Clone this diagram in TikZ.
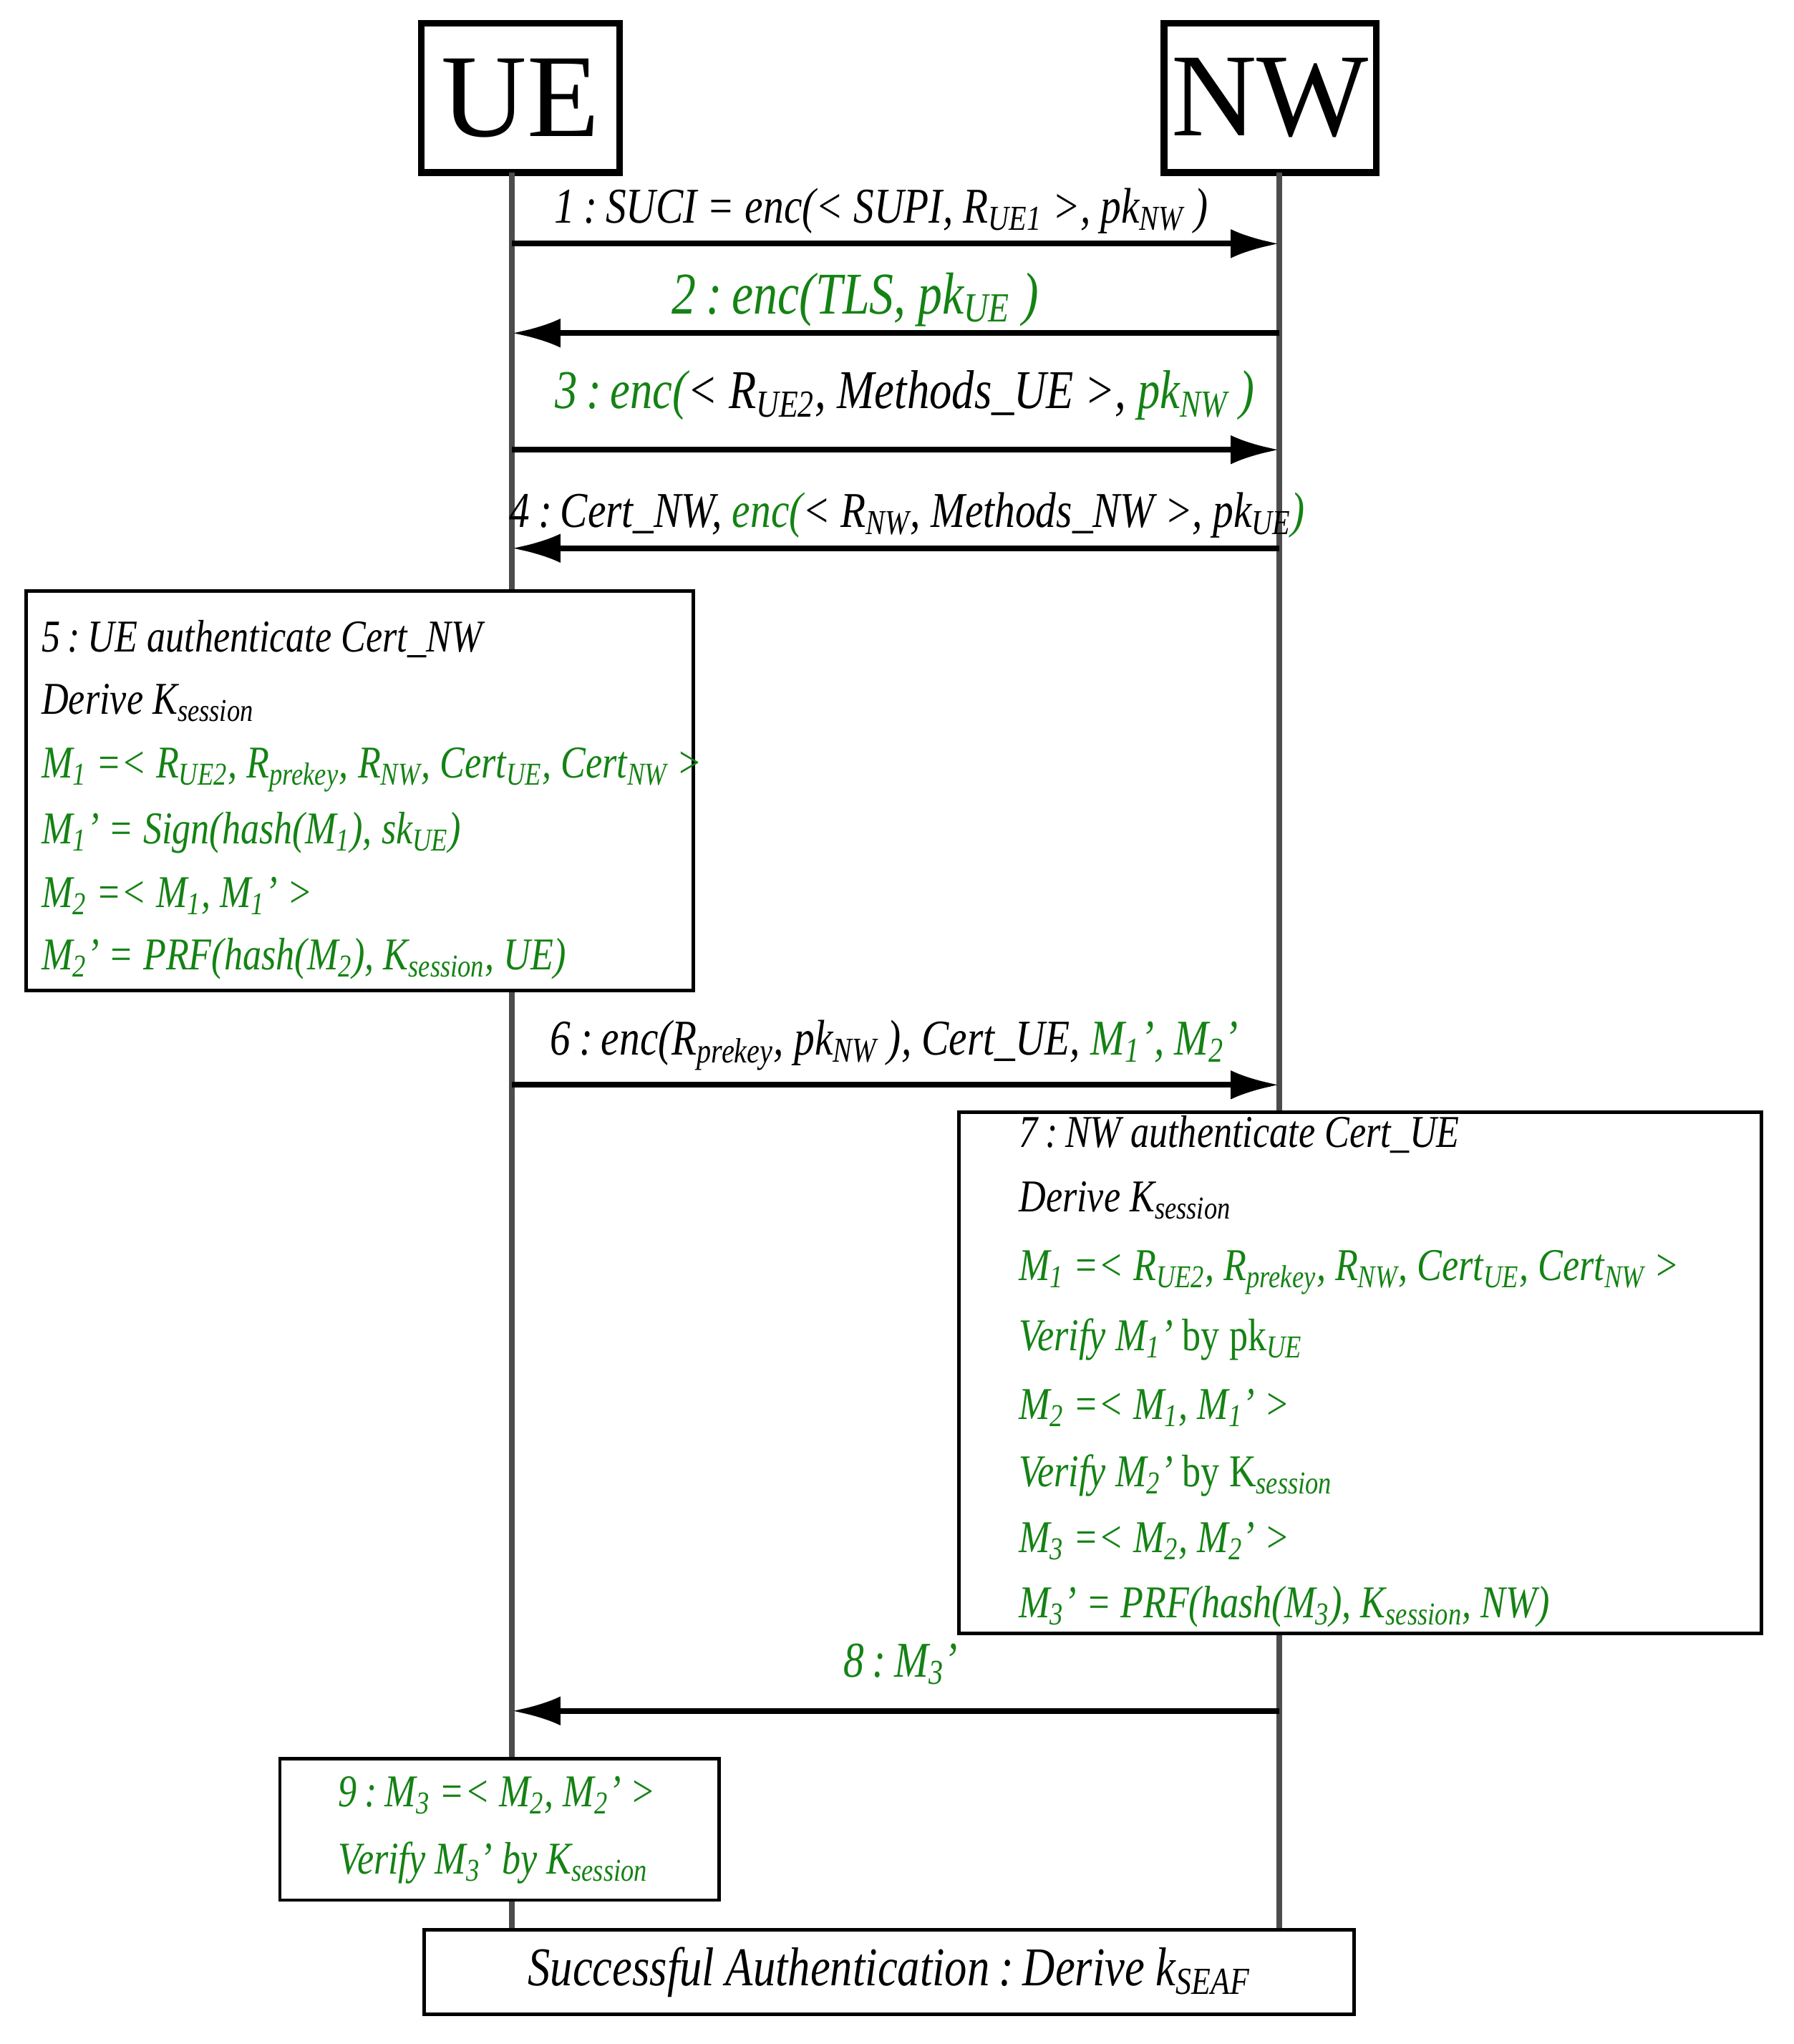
\documentclass[tikz,border=0pt]{standalone}
\usepackage{fontspec}
\setmainfont{Liberation Serif}[FakeStretch=0.82]
\newfontfamily\actorfont{Liberation Serif}
\usetikzlibrary{arrows.meta}
\definecolor{gr}{RGB}{20,130,20}
\newcommand{\sbx}[1]{\textsubscript{\itshape #1}}
\begin{document}
\begin{tikzpicture}[x=0.02cm,y=-0.02cm,
  actor/.style={draw,line width=3pt,minimum width=3.06cm,minimum height=2.3cm,font=\actorfont\fontsize{52}{52}\selectfont},
  life/.style={line width=2.5pt,draw=black!70},
  msg/.style={line width=2.5pt,-{Latex[length=0.75cm,width=0.45cm]}},
  lbl/.style={font=\fontsize{22}{24}\selectfont\itshape,anchor=base},
  box/.style={draw,line width=1.5pt},
  bt/.style={font=\fontsize{20}{22}\selectfont\itshape,anchor=base west}]
\useasboundingbox (0,0) rectangle (1384,1577);
\node[actor] (ue) at (401.5,75.5) {UE};
\node[actor] (nw) at (980,75.5) {NW};
\coordinate (ueb) at (395,1488);
\coordinate (nwb) at (987,1488);
\draw[life] (395,133) -- (ueb);
\draw[life] (987,133) -- (nwb);
% messages
\coordinate (a1) at (395,188); \coordinate (b1) at (987,188);
\draw[msg] (a1) -- (b1);
\node[lbl] (l1) at (680,172) {1\,:\,SUCI = enc(< SUPI, R\sbx{UE1} >, pk\sbx{NW} )};
\coordinate (a2) at (987,257); \coordinate (b2) at (395,257);
\draw[msg] (a2) -- (b2);
\node[lbl,text=gr,font=\fontsize{26}{28}\selectfont\itshape] (l2) at (660,242) {2\,:\,enc(TLS, pk\sbx{UE} )};
\coordinate (a3) at (395,347); \coordinate (b3) at (987,347);
\draw[msg] (a3) -- (b3);
\node[lbl,text=gr,font=\fontsize{24}{26}\selectfont\itshape] (l3) at (698,315) {3\,:\,enc(\textcolor{black}{< R\sbx{UE2}, Methods\_UE >,} pk\sbx{NW} )};
\coordinate (a4) at (987,423); \coordinate (b4) at (395,423);
\draw[msg] (a4) -- (b4);
\node[lbl] (l4) at (700,407) {4\,:\,Cert\_NW, \textcolor{gr}{enc(}< R\sbx{NW}, Methods\_NW >, pk\sbx{UE}\textcolor{gr}{)}};
% box 5
\draw[box,fill=white] (20,456) rectangle (535,764);
\node[bt] (t51) at (26,503) {5\,:\,UE authenticate Cert\_NW};
\node[bt] (t52) at (26,551) {Derive K\sbx{session}};
\node[bt,text=gr] (t53) at (26,600) {M\sbx{1} =< R\sbx{UE2}, R\sbx{prekey}, R\sbx{NW}, Cert\sbx{UE}, Cert\sbx{NW} >};
\node[bt,text=gr] (t54) at (26,651) {M\sbx{1}' = Sign(hash(M\sbx{1}), sk\sbx{UE})};
\node[bt,text=gr] (t55) at (26,700) {M\sbx{2} =< M\sbx{1}, M\sbx{1}' >};
\node[bt,text=gr] (t56) at (26,748) {M\sbx{2}' = PRF(hash(M\sbx{2}), K\sbx{session}, UE)};
\coordinate (a6) at (395,837); \coordinate (b6) at (987,837);
\draw[msg] (a6) -- (b6);
\node[lbl] (l6) at (690,814) {6\,:\,enc(R\sbx{prekey}, pk\sbx{NW} ), Cert\_UE, \textcolor{gr}{M\sbx{1}', M\sbx{2}'}};
% box 7
\draw[box,fill=white] (740,858) rectangle (1359,1260);
\node[bt] (t71) at (780,885) {7\,:\,NW authenticate Cert\_UE};
\node[bt] (t72) at (780,935) {Derive K\sbx{session}};
\node[bt,text=gr] (t73) at (780,988) {M\sbx{1} =< R\sbx{UE2}, R\sbx{prekey}, R\sbx{NW}, Cert\sbx{UE}, Cert\sbx{NW} >};
\node[bt,text=gr] (t74) at (780,1042) {Verify M\sbx{1}' \upshape by pk\sbx{UE}};
\node[bt,text=gr] (t75) at (780,1095) {M\sbx{2} =< M\sbx{1}, M\sbx{1}' >};
\node[bt,text=gr] (t76) at (780,1147) {Verify M\sbx{2}' \upshape by K\sbx{session}};
\node[bt,text=gr] (t77) at (780,1198) {M\sbx{3} =< M\sbx{2}, M\sbx{2}' >};
\node[bt,text=gr] (t78) at (780,1248) {M\sbx{3}' = PRF(hash(M\sbx{3}), K\sbx{session}, NW)};
\coordinate (a8) at (987,1320); \coordinate (b8) at (395,1320);
\draw[msg] (a8) -- (b8);
\node[lbl,text=gr] (l8) at (695,1294) {8\,:\,M\sbx{3}'};
% box 9
\draw[box,fill=white] (216,1357) rectangle (555,1466);
\node[bt,text=gr] (t91) at (255,1394) {9\,:\,M\sbx{3} =< M\sbx{2}, M\sbx{2}' >};
\node[bt,text=gr] (t92) at (255,1446) {Verify M\sbx{3}' by K\sbx{session}};
% final
\node[box,minimum width=14.36cm,minimum height=1.3cm,font=\fontsize{24}{26}\selectfont\itshape] (fin) at (686,1521.5) {Successful Authentication\,:\,Derive k\sbx{SEAF}};
\end{tikzpicture}
\end{document}
